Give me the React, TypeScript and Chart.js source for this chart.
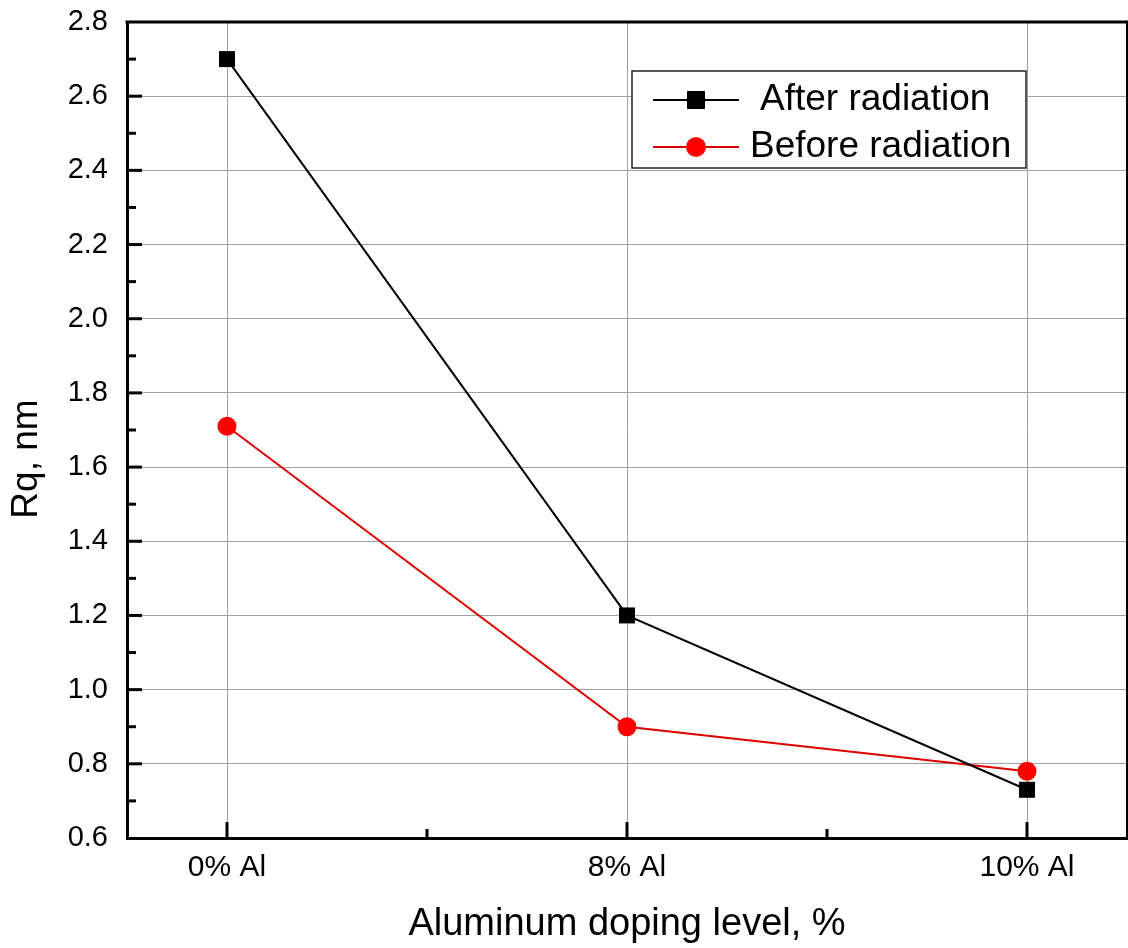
import React, { useEffect, useRef } from 'react';
import { Chart, registerables } from 'chart.js';

Chart.register(...registerables);

// ---- data ----
const categories = ['0% Al', '8% Al', '10% Al'];
const seriesNames = ['After radiation', 'Before radiation'];
const afterRadiation = [2.7, 1.2, 0.73];
const beforeRadiation = [1.71, 0.9, 0.78];
const yMin = 0.6;
const yMax = 2.8;
const yStep = 0.2;
const xTitle = 'Aluminum doping level, %';
const yTitle = 'Rq, nm';

const FONT = "'Liberation Sans', Arial, Helvetica, sans-serif";
const RED = '#ff0000';
const RED_LINE = '#e00000';

const framePlugin = {
  id: 'frameTicks',
  afterDraw(chart: any) {
    const { ctx, chartArea: a, scales } = chart;
    const xs = scales.x;
    const ys = scales.y;
    ctx.save();
    ctx.strokeStyle = '#000';
    ctx.lineCap = 'butt';
    // top frame
    ctx.lineWidth = 3;
    ctx.beginPath();
    ctx.moveTo(a.left - 1.5, a.top);
    ctx.lineTo(a.right + 1, a.top);
    ctx.stroke();
    // right frame
    ctx.lineWidth = 2;
    ctx.beginPath();
    ctx.moveTo(a.right, a.top);
    ctx.lineTo(a.right, a.bottom);
    ctx.stroke();
    // y ticks (inward)
    ctx.lineWidth = 3;
    const yv = ys.ticks.map((t: any) => t.value);
    yv.forEach((v: number, i: number) => {
      const p = ys.getPixelForValue(v);
      if (p > a.top + 3 && p < a.bottom - 3) {
        ctx.beginPath();
        ctx.moveTo(a.left, p);
        ctx.lineTo(a.left + 15, p);
        ctx.stroke();
      }
      if (i < yv.length - 1) {
        const pm = ys.getPixelForValue((v + yv[i + 1]) / 2);
        ctx.beginPath();
        ctx.moveTo(a.left, pm);
        ctx.lineTo(a.left + 9, pm);
        ctx.stroke();
      }
    });
    // x ticks (inward)
    const xv = xs.ticks.map((t: any) => t.value);
    xv.forEach((v: number, i: number) => {
      const p = xs.getPixelForValue(v);
      ctx.beginPath();
      ctx.moveTo(p, a.bottom);
      ctx.lineTo(p, a.bottom - 16);
      ctx.stroke();
      if (i < xv.length - 1) {
        const pm = xs.getPixelForValue((v + xv[i + 1]) / 2);
        ctx.beginPath();
        ctx.moveTo(pm, a.bottom);
        ctx.lineTo(pm, a.bottom - 9);
        ctx.stroke();
      }
    });

    // y title
    ctx.save();
    ctx.translate(27, (a.top + a.bottom) / 2 + 29);
    ctx.rotate(-Math.PI / 2);
    ctx.font = `37px ${FONT}`;
    ctx.fillStyle = '#000';
    ctx.textAlign = 'center';
    ctx.textBaseline = 'middle';
    ctx.fillText(yTitle, 0, 0);
    ctx.restore();

    // legend
    const bx = a.left + 505;
    const by = a.top + 49;
    const bw = 394;
    const bh = 97;
    ctx.fillStyle = '#fff';
    ctx.fillRect(bx, by, bw, bh);
    ctx.lineWidth = 1.5;
    ctx.strokeStyle = '#222';
    ctx.strokeRect(bx, by, bw, bh);
    chart.data.datasets.forEach((ds: any, i: number) => {
      const ry = by + 29 + i * 47;
      const lx0 = bx + 21;
      const lx1 = bx + 107;
      const cx = (lx0 + lx1) / 2;
      ctx.strokeStyle = ds.borderColor;
      ctx.lineWidth = 2;
      ctx.beginPath();
      ctx.moveTo(lx0, ry);
      ctx.lineTo(lx1, ry);
      ctx.stroke();
      ctx.fillStyle = ds.pointBackgroundColor;
      if (ds.pointStyle === 'rect') {
        ctx.fillRect(cx - 9, ry - 9, 18, 18);
      } else {
        ctx.beginPath();
        ctx.arc(cx, ry, 10, 0, Math.PI * 2);
        ctx.fill();
      }
      ctx.fillStyle = '#000';
      ctx.font = `37px ${FONT}`;
      ctx.textAlign = 'left';
      ctx.textBaseline = 'middle';
      ctx.fillText(ds.label, bx + (i === 0 ? 128 : 118), ry);
    });
    ctx.restore();
  },
};

const zeroPad = (scale: any) => {
  scale.paddingTop = 0;
  scale.paddingBottom = 0;
  scale.paddingLeft = 0;
  scale.paddingRight = 0;
};

export default function App() {
  const ref = useRef<HTMLCanvasElement | null>(null);

  useEffect(() => {
    if (!ref.current) return;
    const chart = new Chart(ref.current, {
      type: 'line',
      data: {
        datasets: [
          {
            label: seriesNames[0],
            data: afterRadiation.map((y, i) => ({ x: i, y })),
            borderColor: '#000',
            backgroundColor: '#000',
            pointBackgroundColor: '#000',
            pointBorderColor: '#000',
            pointStyle: 'rect',
            pointRadius: 11.3,
            pointBorderWidth: 0,
            borderWidth: 2,
            tension: 0,
          },
          {
            label: seriesNames[1],
            data: beforeRadiation.map((y, i) => ({ x: i, y })),
            borderColor: RED_LINE,
            backgroundColor: RED,
            pointBackgroundColor: RED,
            pointBorderColor: RED,
            pointStyle: 'circle',
            pointRadius: 9.5,
            pointBorderWidth: 0,
            borderWidth: 2,
            tension: 0,
          },
        ],
      },
      options: {
        animation: false,
        responsive: false,
        maintainAspectRatio: false,
        layout: { autoPadding: false, padding: { top: 22, right: 1, left: 0, bottom: 0 } },
        plugins: {
          legend: { display: false },
          tooltip: { enabled: false },
        },
        scales: {
          x: {
            type: 'linear',
            position: 'bottom',
            min: -0.25,
            max: categories.length - 1 + 0.25,
            afterBuildTicks: (scale: any) => {
              scale.ticks = categories.map((_, i) => ({ value: i }));
            },
            afterFit: (scale: any) => {
              scale.height = 110;
              zeroPad(scale);
            },
            grid: { color: '#a0a0a0', lineWidth: 1, drawTicks: false },
            border: { display: true, color: '#000', width: 3 },
            ticks: {
              color: '#000',
              font: { family: FONT, size: 30 },
              padding: 12,
              maxRotation: 0,
              autoSkip: false,
              callback: (v: any) => categories[Math.round(Number(v))] ?? '',
            },
            title: {
              display: true,
              text: xTitle,
              color: '#000',
              font: { family: FONT, size: 38 },
              padding: { top: 0, bottom: 1 },
            },
          },
          y: {
            type: 'linear',
            min: yMin,
            max: yMax,
            afterFit: (scale: any) => {
              scale.width = 127;
              zeroPad(scale);
            },
            grid: { color: '#a0a0a0', lineWidth: 1, drawTicks: false },
            border: { display: true, color: '#000', width: 3 },
            ticks: {
              stepSize: yStep,
              color: '#000',
              font: { family: FONT, size: 29 },
              padding: 19,
              callback: (v: any) => Number(v).toFixed(1),
            },
          },
        },
      },
      plugins: [framePlugin],
    } as any);
    return () => chart.destroy();
  }, []);

  return (
    <div style={{ position: 'absolute', left: 0, top: 0, width: 1128, height: 948, background: '#fff' }}>
      <canvas ref={ref} width={1128} height={948} style={{ display: 'block' }} />
    </div>
  );
}
